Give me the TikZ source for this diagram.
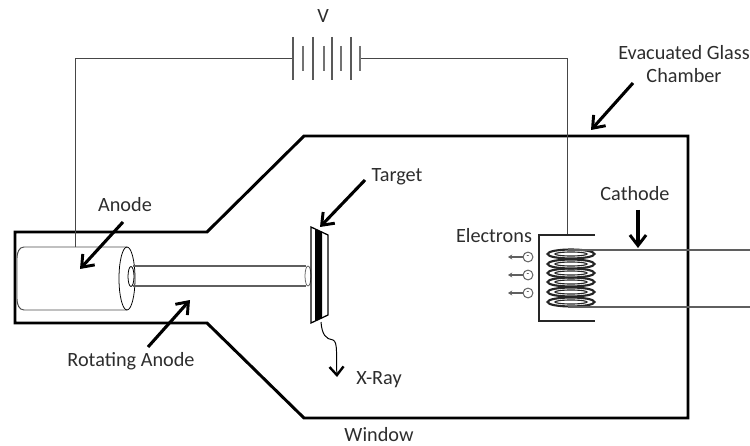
\documentclass[tikz,border=0pt]{standalone}
\usepackage{fontspec}
\setmainfont{Carlito}
\usepackage{xcolor}
\usetikzlibrary{arrows.meta,positioning,calc}
\definecolor{labelgrey}{RGB}{45,45,45}
\definecolor{wiregrey}{RGB}{70,70,70}
\definecolor{rodgrey}{RGB}{95,95,95}

\begin{document}
\begin{tikzpicture}[
    x=0.025cm, y=-0.025cm,
    caption/.style={font=\fontsize{14.4}{17}\selectfont, text=labelgrey, align=center, inner sep=0pt},
    chamber/.style={line width=2.1pt, black, line join=miter},
    wire/.style={line width=0.55pt, wiregrey},
    rod/.style={line width=0.8pt, rodgrey},
    outline/.style={line width=0.55pt, black},
    bigarrow/.style={-{Straight Barb[length=7.5pt,width=11.5pt,line width=2.1pt]}, line width=2.2pt, black},
    tinyarrow/.style={-{Stealth[length=3pt,width=3.5pt]}, line width=1pt, rodgrey},
    electron/.style={circle, draw=rodgrey, line width=0.7pt, minimum size=7pt, inner sep=0pt, font=\fontsize{6}{6}\selectfont},
    coil/.style={draw=black!85, line width=1.5pt, fill=white},
]
\useasboundingbox (0,0) rectangle (750,446);

% === Glass chamber ===
\draw[chamber] (15,232) -- (207,232) -- (304,136) -- (688,136) -- (688,418) -- (304,418) -- (207,323) -- (15,323) -- cycle;

% === Battery and leads ===
\coordinate (anodetop) at (75,247);
\coordinate (cornerl) at (75,58);
\coordinate (battl) at (293,58);
\coordinate (battr) at (360,58);
\coordinate (cornerr) at (567,58);
\coordinate (cathtop) at (567,235);
\draw[wire] (anodetop) -- (cornerl) -- (battl);
\draw[wire] (battr) -- (cornerr) -- (cathtop);
\foreach \x in {293,313,332,351}{
    \draw[line width=0.8pt, black!65] (\x,37) -- (\x,80);
}
\foreach \x in {303,324,341,360}{
    \draw[line width=0.9pt, black!55] (\x,46) -- (\x,71);
}

% === Anode cylinder and rod ===
\draw[outline, black!70, line width=0.7pt] (127,247) -- (24,247) to[out=180,in=90] (17,258) -- (17,299) to[out=-90,in=180] (24,310) -- (127,310);
\draw[outline] (127,278.5) ellipse (8 and 31.5);
\draw[outline] (131,276.5) ellipse (3 and 10);
\draw[rod] (133,266) -- (306,266);
\draw[rod] (133,286) -- (306,286);
\draw[outline, black!60] (308,276) ellipse (3 and 10);

% === Target ===
\fill[black] (315,229) -- (322,232) -- (322,318) -- (315,321) -- cycle;
\draw[line width=0.9pt, black] (311,227) -- (328,235) -- (328,315) -- (311,323) -- cycle;

% === X-ray ===
\coordinate (raystart) at (321,322);
\coordinate (raybend) at (333,340);
\coordinate (raytip) at (337,377);
\draw[-{Straight Barb[length=6pt,width=10pt,line width=1.7pt]}, line width=0.7pt] (raystart) .. controls (322,335) and (326,339) .. (raybend) .. controls (338,342) and (336,355) .. (raytip);

% === Cathode ===
\draw[line width=0.9pt, black!85] (595,235) -- (539,235) -- (539,321) -- (595,321);
\foreach \y in {302,292,282,273,264,254}{
    \draw[coil] (571,\y) ellipse (23.5 and 4.5);
    \draw[draw=black!85, line width=0.8pt] (571,\y) ellipse (16 and 2);
}
\draw[line width=0.9pt, rodgrey] (568,250) -- (750,250);
\draw[line width=0.9pt, rodgrey] (568,307) -- (750,307);

% === Electrons ===
\foreach \y/\n in {257/e1,275/e2,293/e3}{
    \node[electron] (\n) at (528,\y) {-};
    \coordinate (\n tip) at (508,\y);
    \draw[tinyarrow] (\n) -- (\n tip);
}

% === Labels ===
\node[caption] (vlabel) at (323,16) {V};
\node[caption] (glasslabel) at (684,64) {Evacuated Glass\\Chamber};
\node[caption] (anodelabel) at (125,205) {Anode};
\node[caption] (targetlabel) at (397,177) {Target};
\node[caption] (cathodelabel) at (635,194) {Cathode};
\node[caption] (electronlabel) at (494,236) {Electrons};
\node[caption] (rotatinglabel) at (131,361) {Rotating Anode};
\node[caption] (raylabel) at (379,380) {X-Ray};
\node[caption] (windowlabel) at (379,435) {Window};

% === Pointer arrows ===
\coordinate (glasstail) at (633,83);
\coordinate (glasstip) at (591,130);
\coordinate (anodetail) at (123,222);
\coordinate (anodetip) at (80,269);
\coordinate (rotatingtail) at (148,347);
\coordinate (rotatingtip) at (190,300);
\coordinate (targettail) at (365,180);
\coordinate (targettip) at (320,227);
\coordinate (cathodetail) at (638,210);
\coordinate (cathodetip) at (638,248);
\draw[bigarrow] (glasstail) -- (glasstip);
\draw[bigarrow] (anodetail) -- (anodetip);
\draw[bigarrow] (rotatingtail) -- (rotatingtip);
\draw[bigarrow] (targettail) -- (targettip);
\draw[bigarrow] (cathodetail) -- (cathodetip);

\end{tikzpicture}
\end{document}
